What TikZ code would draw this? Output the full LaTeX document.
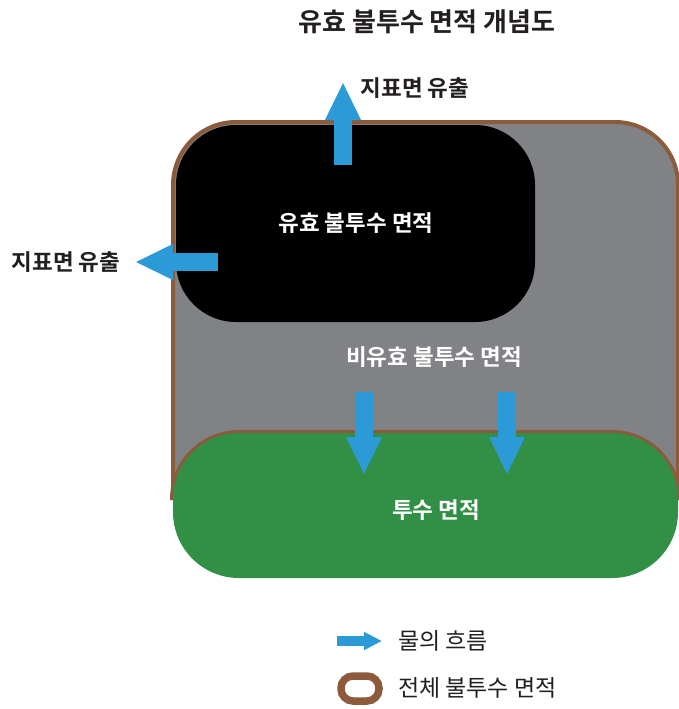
\documentclass[tikz,border=0pt]{standalone}
\usepackage{fontspec}
\setmainfont{Noto Sans CJK KR}[BoldFont={Noto Sans CJK KR Bold}]
\usetikzlibrary{arrows.meta}
\definecolor{brownb}{HTML}{8C5B3B}
\definecolor{grayarea}{HTML}{818285}
\definecolor{greenarea}{HTML}{318F46}
\definecolor{blueflow}{HTML}{2B9AD6}
\definecolor{darktext}{HTML}{231F20}
\begin{document}
\begin{tikzpicture}[x=1pt,y=-1pt,
  flow/.style={draw=blueflow, line width=18pt, -{Triangle[length=38pt,width=33pt]}},
  lbl/.style={inner sep=0pt, font=\fontsize{22.5}{24}\selectfont\bfseries, text=darktext},
  inlbl/.style={inner sep=0pt, font=\fontsize{22.5}{24}\selectfont\bfseries, text=white},
  leg/.style={inner sep=0pt, anchor=west, font=\fontsize{23}{25}\selectfont, text=darktext}]
\useasboundingbox (0,0) rectangle (679,709);
% outer total impervious area
\fill[grayarea, rounded corners=63pt] (173,122) rectangle (678,560);
\draw[brownb, line width=4pt, rounded corners=63pt] (173,500) -- (173,122) -- (678,122) -- (678,500);
% effective impervious area
\fill[black, rounded corners=60pt] (176,125) rectangle (535,322);
% pervious area
\draw[brownb, line width=6pt, rounded corners=66pt] (173,500) -- (173,433) -- (678,433) -- (678,500);
\fill[greenarea, rounded corners=66pt] (173,433) rectangle (678,578);
% labels
\node[inner sep=0pt, font=\fontsize{26}{28}\selectfont\bfseries, text=darktext] (title) at (427,22) {유효 불투수 면적 개념도};
\node[lbl] (rtop) at (415,88) {지표면 유출};
\node[lbl] (rleft) at (66,262) {지표면 유출};
\node[inlbl] (eia) at (356,223) {유효 불투수 면적};
\node[inlbl] (nia) at (434,357) {비유효 불투수 면적};
\node[inlbl] (pa) at (436,510) {투수 면적};
% flows
\coordinate (u0) at (343,165); \coordinate (u1) at (343,82);
\coordinate (l0) at (218,262); \coordinate (l1) at (135,262);
\coordinate (d0) at (364,392); \coordinate (d1) at (364,475);
\coordinate (e0) at (507,392); \coordinate (e1) at (507,475);
\draw[flow] (u0) -- (u1);
\draw[flow] (l0) -- (l1);
\draw[flow] (d0) -- (d1);
\draw[flow] (e0) -- (e1);
% legend
\coordinate (g0) at (337,641); \coordinate (g1) at (382,641);
\draw[draw=blueflow, line width=10pt, -{Triangle[length=18pt,width=17pt]}] (g0) -- (g1);
\node[leg] (legflow) at (398,641) {물의 흐름};
\draw[brownb, line width=7.5pt, rounded corners=12pt] (341,676) rectangle (379,701);
\node[leg] (legtot) at (398,688) {전체 불투수 면적};
\end{tikzpicture}
\end{document}
